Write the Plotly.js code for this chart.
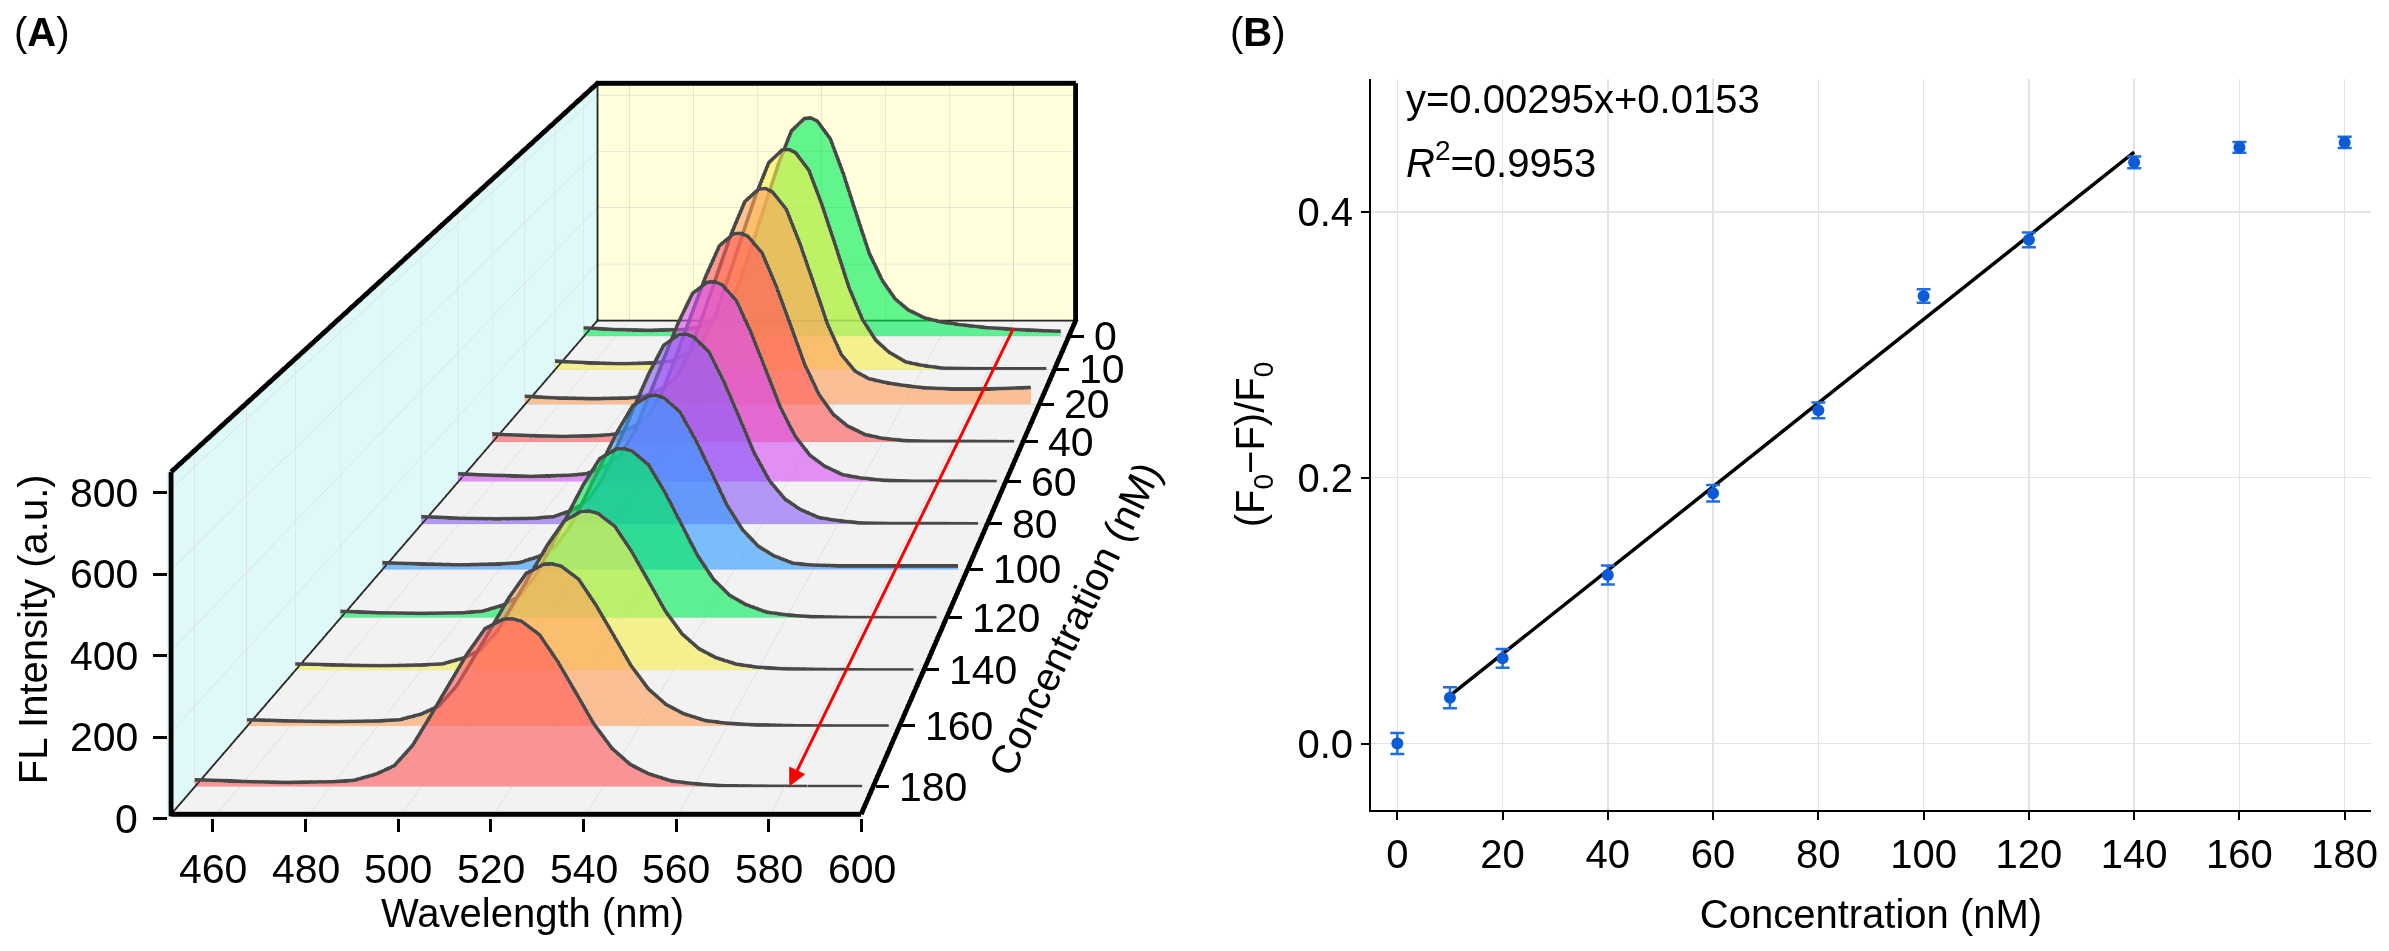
<!DOCTYPE html>
<html>
<head>
<meta charset="utf-8">
<script src="https://cdn.plot.ly/plotly-3.0.1.min.js"></script>
<style>
  html, body { margin:0; padding:0; width:2389px; height:951px; overflow:hidden; background:#fff; }
  #chartA { position:absolute; left:-190px; top:-2544px; width:3500px; height:3500px; z-index:1; }
  #chartB { position:absolute; left:0; top:0; width:2389px; height:951px; z-index:2; pointer-events:none; }
</style>
</head>
<body>
<div id="chartA"></div>
<div id="chartB"></div>
<script>
// ---------------- Panel A data ----------------
const wavelengths = [450,460,470,480,485,490,494,498,502,506,510,514,518,520,522,526,530,534,538,542,546,550,555,560,566,574,585,597];
const concLabels = ['0','10','20','40','60','80','100','120','140','160','180'];
const fl_0nM   = [29,23,20,23,29,57,95,186,322,462,602,718,762,764,753,691,569,428,290,195,130,92,64,50,40,30,22,17];
const fl_10nM  = [28,22,19,22,28,55,93,182,315,453,589,703,746,748,737,677,557,419,278,170,99,58,25,13,4,2,1,1];
const fl_20nM  = [27,21,19,21,27,53,88,173,300,431,562,670,711,713,702,645,531,399,265,165,110,85,72,63,55,51,51,56];
const fl_40nM  = [25,20,17,20,25,49,83,162,281,404,526,628,666,668,658,605,498,374,248,152,88,51,23,11,4,1,1,0];
const fl_60nM  = [24,19,16,19,24,46,77,151,261,375,489,583,618,620,611,561,462,347,230,141,82,48,21,11,4,1,1,0];
const fl_80nM  = [22,17,15,17,22,42,71,139,240,345,449,536,568,570,561,516,425,319,211,129,75,44,19,10,3,1,1,0];
const fl_100nM = [19,15,13,15,19,37,63,123,213,306,398,475,503,505,497,457,376,283,187,115,67,39,17,12,10,10,10,10];
const fl_120nM = [18,14,12,14,18,35,59,115,200,287,374,446,473,474,467,429,353,265,176,108,63,37,16,8,3,1,0,0];
const fl_140nM = [16,13,11,13,16,32,53,104,181,260,338,403,428,429,423,388,320,240,159,97,57,33,15,7,3,1,0,0];
const fl_160nM = [16,13,11,13,16,31,52,103,178,255,333,397,421,422,416,382,314,236,157,96,56,32,14,7,3,1,0,0];
const fl_180nM = [17,13,10,12,15,31,52,102,177,254,331,395,419,420,414,380,313,235,156,95,55,32,14,7,2,1,0,0];
const spectra = [fl_0nM, fl_10nM, fl_20nM, fl_40nM, fl_60nM, fl_80nM, fl_100nM, fl_120nM, fl_140nM, fl_160nM, fl_180nM];
const fillColors = ['rgb(0,239,89)','rgb(247,239,80)','rgb(255,160,90)','rgb(255,90,90)','rgb(214,80,247)',
                    'rgb(140,95,247)','rgb(50,155,255)','rgb(0,239,89)','rgb(247,239,80)','rgb(255,160,90)','rgb(255,90,90)'];
const wlTicks = [460,480,500,520,540,560,580,600];
const flTicks = [0,200,400,600,800];
const depthRange = [-0.5, 10.5];
const wlRange = [450, 600];
const flRange = [0, 850];

// ---------------- Panel B data ----------------
const concB = [0,10,20,40,60,80,100,120,140,160,180];
const ratioB = [0.000,0.0345,0.0641,0.1268,0.1884,0.2507,0.3368,0.379,0.4373,0.4486,0.4523];
const errB = [0.0079,0.0079,0.0071,0.0071,0.0062,0.0059,0.0051,0.0055,0.0044,0.0040,0.0042];
const fitX = [10,140];
const fitY = [0.036,0.445];

const FONT = 'Liberation Sans, Arial, Helvetica, sans-serif';

// ---------------- Panel A build ----------------
const tracesA = [];
const catIdx = concLabels.map((_, i) => i);
spectra.forEach((vals, si) => {
  const xs = [], ys = [], zs = [], I = [], J = [], K = [];
  wavelengths.forEach((w, j) => {
    xs.push(catIdx[si], catIdx[si]); ys.push(w, w); zs.push(0, vals[j]);
  });
  for (let j = 0; j < wavelengths.length - 1; j++) {
    const b = 2*j, t = 2*j+1, b2 = 2*j+2, t2 = 2*j+3;
    I.push(b, t); J.push(t, t2); K.push(b2, b2);
  }
  tracesA.push({
    type:'mesh3d', x:xs, y:ys, z:zs, i:I, j:J, k:K,
    color: fillColors[si], opacity:0.62, flatshading:true,
    lighting:{ambient:1, diffuse:0, specular:0, roughness:1, fresnel:0},
    hoverinfo:'skip', showscale:false
  });
  tracesA.push({
    type:'scatter3d', mode:'lines',
    x: wavelengths.map(() => catIdx[si]), y: wavelengths, z: vals,
    line:{color:'rgb(72,72,72)', width:6}, hoverinfo:'skip', showlegend:false
  });
});

// box frame (axis lines) built from the axis ranges; kept a hair inside the
// scene bounds so neither clipping nor the background planes hide them
const [d0, d1] = depthRange, [w0, w1] = wlRange, [f0, f1] = flRange;
const dLo = d0 + 0.06, dHi = d1 - 0.03;
const wLo = w0 + 0.6,  wHi = w1 - 0.3;
const fLo = f0 + 6,    fHi = f1 - 3;
const thickEdges = [
  [[dHi,wLo,fLo],[dHi,wHi,fLo]],   // wavelength axis line (front bottom)
  [[dHi,wLo,f0+1],[dHi,wLo,fHi]],  // intensity axis line (front left)
  [[d0+0.02,wHi,fLo],[dHi,wHi,fLo]], // concentration axis line (right floor edge)
  [[d0+0.02,wLo,fHi],[dHi,wLo,fHi]], // left wall top
  [[dLo,w0+0.2,fHi],[dLo,wHi,fHi]],  // back wall top
  [[dLo,wHi,f0+1],[dLo,wHi,fHi]]     // back wall right
];
const thinEdges = [
  [[d0+0.02,wLo,fLo],[dHi,wLo,fLo]],
  [[dLo,w0+0.2,fLo],[dLo,wHi,fLo]],
  [[dLo,wLo,f0+1],[dLo,wLo,fHi]]
];
function edgeTrace(pts, width, color) {
  return {type:'scatter3d', mode:'lines',
          x:pts.map(p => p[0]), y:pts.map(p => p[1]), z:pts.map(p => p[2]),
          line:{color, width}, hoverinfo:'skip', showlegend:false};
}
thinEdges.forEach(e => tracesA.unshift(edgeTrace(e, 3, 'rgb(40,40,40)')));
thickEdges.forEach(e => tracesA.push(edgeTrace(e, 8, '#000')));

const axBase = {
  showticklabels:false, ticks:'', showline:false,
  showgrid:true, gridcolor:'#d6d6d6', gridwidth:1,
  zeroline:false, showspikes:false, showbackground:true, title:{text:''}
};

const annA = [];
const tf = {family:FONT, size:41, color:'#000'};
const tickMark = {text:' ', showarrow:false, bgcolor:'#000', borderpad:0, borderwidth:0, font:{size:2}};
wlTicks.forEach(w => {
  annA.push(Object.assign({x:d1, y:w, z:f0, width:3, height:13, xanchor:'center', yanchor:'top'}, tickMark));
  annA.push({x:d1, y:w, z:f0, text:String(w), showarrow:false, xanchor:'center', yanchor:'top', yshift:-25, font:tf});
});
flTicks.forEach(v => {
  annA.push(Object.assign({x:d1, y:w0, z:v, width:14, height:3, xanchor:'right', yanchor:'middle'}, tickMark));
  annA.push({x:d1, y:w0, z:v, text:String(v), showarrow:false, xanchor:'right', yanchor:'middle', xshift:-27, font:tf});
});
concLabels.forEach((c, i) => {
  annA.push(Object.assign({x:catIdx[i], y:w1, z:f0, width:13, height:3, xanchor:'left', yanchor:'middle'}, tickMark));
  annA.push({x:catIdx[i], y:w1, z:f0, text:c, showarrow:false, xanchor:'left', yanchor:'middle', xshift:21, font:tf});
});
annA.push({x:d1, y:w0, z:464, text:'FL Intensity (a.u.)', showarrow:false, textangle:-90,
  xanchor:'center', yanchor:'middle', xshift:-134, font:{family:FONT, size:40, color:'#000'}});
annA.push({x:d1, y:529, z:f0, text:'Wavelength (nm)', showarrow:false,
  xanchor:'center', yanchor:'middle', yshift:-94, font:{family:FONT, size:40, color:'#000'}});
annA.push({x:6, y:w1, z:f0, text:'Concentration (nM)', showarrow:false, textangle:-64,
  xanchor:'center', yanchor:'middle', xshift:105, yshift:-50, font:{family:FONT, size:40, color:'#000'}});
annA.push({x:10, y:581, z:f0, text:'', showarrow:true, ax:225, ay:-460,
  arrowcolor:'#ff0000', arrowwidth:3, arrowhead:2, arrowsize:1.2});

const layoutA = {
  width:3500, height:3500, margin:{l:0, r:0, t:0, b:0},
  paper_bgcolor:'rgba(0,0,0,0)', showlegend:false, hovermode:false,
  scene:{
    domain:{x:[0,1], y:[0,1]},
    bgcolor:'rgba(0,0,0,0)',
    aspectmode:'manual', aspectratio:{x:2.7186, y:1, z:0.4984},
    camera:{eye:{x:7.438, y:1.5048, z:2.0711}, center:{x:0, y:1.5048, z:2.0711}, up:{x:0, y:0, z:1},
            projection:{type:'perspective'}},
    xaxis:Object.assign({}, axBase, {range:depthRange, tickvals:catIdx, ticktext:concLabels, backgroundcolor:'#ffffdc'}),
    yaxis:Object.assign({}, axBase, {range:wlRange, tickvals:wlTicks, backgroundcolor:'#dff8f8'}),
    zaxis:Object.assign({}, axBase, {range:flRange, tickvals:flTicks, backgroundcolor:'#f2f2f2'}),
    annotations:annA
  }
};
Plotly.newPlot('chartA', tracesA, layoutA, {displayModeBar:false});

// ---------------- Panel B ----------------
const tracesB = [
  {type:'scatter', mode:'lines', x:fitX, y:fitY, line:{color:'#000', width:3.5}, hoverinfo:'skip'},
  {type:'scatter', mode:'markers', x:concB, y:ratioB,
   marker:{size:12, color:'#0b5bd6'},
   error_y:{type:'data', array:errB, visible:true, color:'#1f6fe0', thickness:2.5, width:7},
   hoverinfo:'skip'}
];
const axB = {
  showgrid:true, gridcolor:'#e4e4e4', gridwidth:1.5, zeroline:false,
  showline:true, linecolor:'#000', linewidth:2, ticks:'outside', ticklen:8, tickwidth:2, tickcolor:'#000',
  tickfont:{family:FONT, size:40, color:'#000'}
};
const layoutB = {
  width:2389, height:951, margin:{l:1371, r:18, t:79, b:141},
  paper_bgcolor:'rgba(0,0,0,0)', plot_bgcolor:'#fff', showlegend:false, hovermode:false,
  font:{family:FONT, size:40, color:'#000'},
  xaxis:Object.assign({}, axB, {range:[-5,185], tickvals:[0,20,40,60,80,100,120,140,160,180],
    title:{text:'Concentration (nM)', font:{family:FONT, size:40, color:'#000'}, standoff:25}}),
  yaxis:Object.assign({}, axB, {range:[-0.05,0.5], tickvals:[0,0.2,0.4], ticktext:['0.0','0.2','0.4'],
    title:{text:'(F<sub>0</sub>\u2212F)/F<sub>0</sub>', font:{family:FONT, size:40, color:'#000'}, standoff:20}}),
  annotations:[
    {xref:'paper', yref:'paper', x:0.033, y:0.972, xanchor:'left', yanchor:'middle', showarrow:false,
     text:'y=0.00295x+0.0153', font:{family:FONT, size:40, color:'#000'}},
    {xref:'paper', yref:'paper', x:0.033, y:0.889, xanchor:'left', yanchor:'middle', showarrow:false,
     text:'<i>R</i><sup>2</sup>=0.9953', font:{family:FONT, size:40, color:'#000'}},
    {xref:'paper', yref:'paper', x:-1.359, y:1.097, xanchor:'left', yanchor:'top', showarrow:false,
     text:'(<b>A</b>)', font:{family:FONT, size:40, color:'#000'}},
    {xref:'paper', yref:'paper', x:-0.143, y:1.097, xanchor:'left', yanchor:'top', showarrow:false,
     text:'(<b>B</b>)', font:{family:FONT, size:40, color:'#000'}}
  ]
};
Plotly.newPlot('chartB', tracesB, layoutB, {displayModeBar:false, staticPlot:true});
</script>
</body>
</html>
